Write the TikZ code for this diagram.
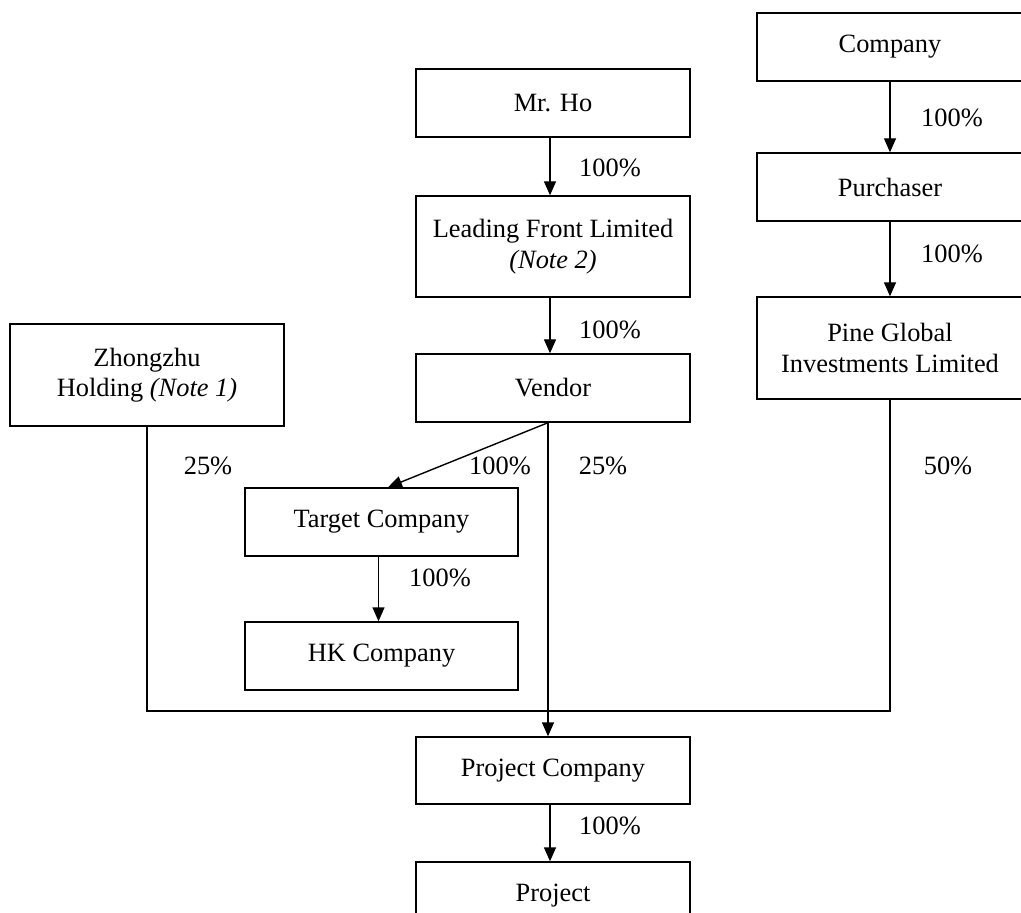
\documentclass[tikz,border=0pt]{standalone}
\usepackage{fontspec}
\setmainfont{Liberation Serif}
\usetikzlibrary{arrows.meta}
\begin{document}
\begin{tikzpicture}[x=0.5pt,y=-0.5pt,
  every node/.style={font=\fontsize{13.2}{15.2}\selectfont, inner sep=0pt},
  boxnode/.style={draw, line width=0.7pt, align=center, minimum width=137pt},
  pct/.style={},
  link/.style={line width=0.7pt},
  arr/.style={line width=0.7pt, -{Triangle[length=7pt,width=6pt]}}]
\useasboundingbox (0,0) rectangle (1021,913);
\clip (0,0) rectangle (1021,913);
% boxes
\node[boxnode, minimum width=133pt, minimum height=34pt] (company) at (890,47) {Company};
\node[boxnode, minimum height=34pt] (mrho) at (553,103) {Mr. Ho};
\node[boxnode, minimum height=50.5pt] (leading) at (553,246.5) {Leading Front Limited\\\textit{(Note 2)}};
\node[boxnode, minimum height=34pt] (vendor) at (553,388) {Vendor};
\node[boxnode, minimum height=51pt] (zhong) at (147,375) {Zhongzhu\\Holding \textit{(Note 1)}};
\node[boxnode, minimum width=133pt, minimum height=34pt] (purch) at (890,187) {Purchaser};
\node[boxnode, minimum width=133pt, minimum height=51pt] (pine) at (890,348) {Pine Global\\Investments Limited};
\node[boxnode, minimum width=136.5pt, minimum height=34pt] (target) at (381.5,522) {Target Company};
\node[boxnode, minimum width=136.5pt, minimum height=34pt] (hk) at (381.5,656) {HK Company};
\node[boxnode, minimum height=33.5pt] (projco) at (553,770.5) {Project Company};
\node[boxnode, minimum height=34pt] (project) at (553,896) {Project};
% junction
\coordinate (j) at (548,711);
% connectors
\draw[arr] ([xshift=-1.5pt]mrho.south) -- ([xshift=-1.5pt]leading.north);
\draw[arr] ([xshift=-1.5pt]leading.south) -- ([xshift=-1.5pt]vendor.north);
\draw[arr] (company.south) -- (purch.north);
\draw[arr] (purch.south) -- (pine.north);
\draw[arr] ([xshift=-2.5pt]vendor.south) -- ([xshift=3.25pt]target.north);
\draw[arr] ([xshift=-2.5pt]vendor.south) -- ([xshift=-2.5pt]projco.north);
\draw[link] (zhong.south) |- (j) -| (pine.south);
\draw[arr] ([xshift=-1.5pt]target.south) -- ([xshift=-1.5pt]hk.north);
\draw[arr] ([xshift=-1.5pt]projco.south) -- ([xshift=-1.5pt]project.north);
% labels
\node[pct] (l1) at (610,168) {100\%};
\node[pct] (l2) at (610,330) {100\%};
\node[pct] (l3) at (952,118) {100\%};
\node[pct] (l4) at (952,254) {100\%};
\node[pct] (l5) at (500,466) {100\%};
\node[pct] (l6) at (603,466) {25\%};
\node[pct] (l7) at (208,466) {25\%};
\node[pct] (l8) at (948,466) {50\%};
\node[pct] (l9) at (440,578) {100\%};
\node[pct] (l10) at (610,826) {100\%};
\end{tikzpicture}
\end{document}
